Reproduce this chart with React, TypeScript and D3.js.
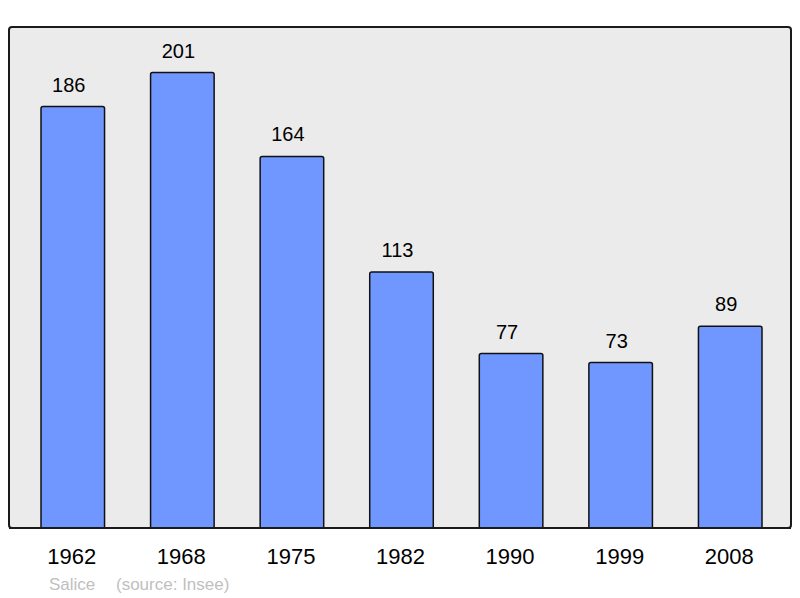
import React from 'react';
import * as d3 from 'd3';

const years = ['1962', '1968', '1975', '1982', '1990', '1999', '2008'];
const population = [186, 201, 164, 113, 77, 73, 89];
const commune = 'Salice';
const source = '(source: Insee)';

export default function App() {
  const width = 800;
  const height = 598;
  const panel = { left: 9, top: 27, right: 791, bottom: 528 };

  const x = d3.scaleBand<string>()
    .domain(years)
    .range([panel.left + 32, panel.right - 29])
    .paddingInner(0.42)
    .paddingOuter(0);

  const y = d3.scaleLinear()
    .domain([0, d3.max(population)! * 1.1])
    .range([panel.bottom, panel.top]);

  const font = '"Liberation Sans", Arial, sans-serif';

  return (
    <svg width={width} height={height} style={{ position: 'absolute', left: 0, top: 0 }}>
      <rect x={0} y={0} width={width} height={height} fill="#ffffff" />
      <rect
        x={panel.left}
        y={panel.top}
        width={panel.right - panel.left}
        height={panel.bottom - panel.top}
        rx={3}
        fill="#ebebeb"
        stroke="#1a1a1a"
        strokeWidth={2}
      />
      {years.map((yr, i) => {
        const bx = x(yr)!;
        const bw = x.bandwidth();
        const top = y(population[i]);
        return (
          <g key={yr}>
            <path
              d={`M${bx},${panel.bottom} V${top + 2} Q${bx},${top} ${bx + 2},${top} H${bx + bw - 2} Q${bx + bw},${top} ${bx + bw},${top + 2} V${panel.bottom}`}
              fill="#7097ff"
              stroke="#111111"
              strokeWidth={1.5}
            />
            <text
              x={bx + bw / 2 - 4}
              y={top - 15}
              textAnchor="middle"
              fontFamily={font}
              fontSize={20}
              fill="#000"
            >
              {population[i]}
            </text>
            <text
              x={bx + bw / 2 - 1}
              y={564}
              textAnchor="middle"
              fontFamily={font}
              fontSize={22}
              fill="#000"
            >
              {yr}
            </text>
          </g>
        );
      })}
      <line x1={panel.left} x2={panel.right} y1={panel.bottom} y2={panel.bottom} stroke="#1a1a1a" strokeWidth={2} />
      <text x={49} y={590} fontFamily={font} fontSize={17} fill="#c0c0c0">{commune}</text>
      <text x={116} y={590} fontFamily={font} fontSize={17} fill="#c0c0c0">{source}</text>
    </svg>
  );
}
